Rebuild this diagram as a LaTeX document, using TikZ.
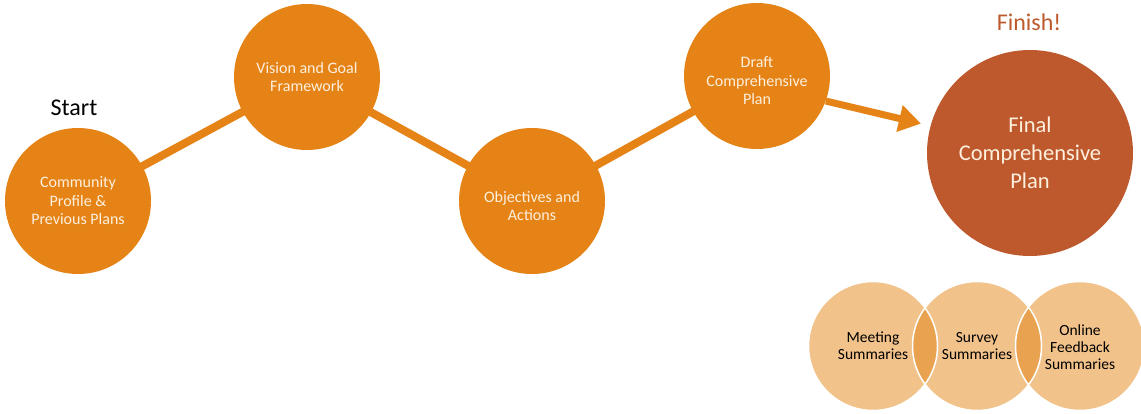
\documentclass[tikz,border=0pt]{standalone}
\usepackage{fontspec}
\setmainfont{Carlito}
\usetikzlibrary{arrows.meta}
\definecolor{orng}{RGB}{229,131,22}
\definecolor{rust}{RGB}{190,89,46}
\definecolor{lite}{RGB}{241,194,138}
\definecolor{lens}{RGB}{233,163,80}
\definecolor{cream}{RGB}{253,240,222}
\begin{document}
\begin{tikzpicture}[x=1pt,y=-1pt,
  stage/.style={circle,fill=orng,minimum size=146pt,inner sep=0pt,align=center,text=cream,font=\fontsize{16}{18.5}\selectfont},
  conn/.style={draw=orng,line width=8pt},
  sub/.style={circle,minimum size=130pt,inner sep=0pt,align=center,text=black,font=\fontsize{15.5}{17}\selectfont}]
\useasboundingbox (0,0) rectangle (1141,414);
% connectors (behind)
\coordinate (cC) at (78,201);
\coordinate (cV) at (307,77);
\coordinate (cO) at (532,201);
\coordinate (cD) at (757,76);
\draw[conn] (cC) -- (cV) -- (cO) -- (cD);
\node[stage] (comm) at (cC) {Community\\Profile \&\\Previous Plans};
\node[stage] (vis) at (cV) {Vision and Goal\\Framework};
\node[stage] (obj) at (cO) {\\[3pt]Objectives and\\Actions};
\node[stage] (draft) at (cD) {\\[2pt]Draft\\Comprehensive\\Plan};
\node[circle,fill=rust,minimum size=206pt,inner sep=0pt,align=center,text=cream,font=\fontsize{22.5}{28}\selectfont] (final) at (1030,153) {Final\\Comprehensive\\Plan};
\draw[draw=orng,line width=7pt,-{Triangle[length=22pt,width=26pt]},shorten >=6pt] (draft.-20) -- (final.west |- 0,125) coordinate (tipend);
\node[font=\fontsize{24}{28}\selectfont,text=black] (start) at (74,108) {Start};
\node[font=\fontsize{24}{28}\selectfont,text=rust] (finish) at (1029,22) {Finish!};
% sub circles
\coordinate (m) at (873,346);
\coordinate (s) at (977,346);
\coordinate (o) at (1080,346);
\fill[lite] (m) circle (64.5pt) (s) circle (64.5pt) (o) circle (64.5pt);
\begin{scope}
\clip (m) circle (64.5pt);
\fill[lens] (s) circle (64.5pt);
\end{scope}
\begin{scope}
\clip (s) circle (64.5pt);
\fill[lens] (o) circle (64.5pt);
\end{scope}
\draw[white,line width=1.5pt] (m) circle (64.5pt) (s) circle (64.5pt) (o) circle (64.5pt);
\node[sub] (meet) at (m) {Meeting\\Summaries};
\node[sub] (surv) at (s) {Survey\\Summaries};
\node[sub] (onl) at ([yshift=-1pt]o) {Online\\Feedback\\Summaries};
\end{tikzpicture}
\end{document}
